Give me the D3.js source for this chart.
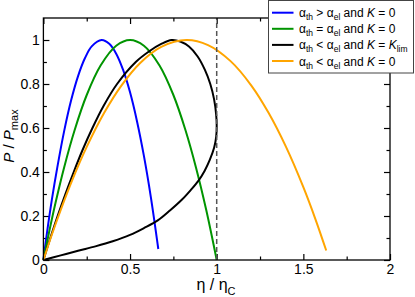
<!DOCTYPE html>
<html>
<head>
<meta charset="utf-8">
<script src="https://cdn.jsdelivr.net/npm/d3@7"></script>
<style>
  body { margin: 0; background: #fff; }
  svg { display: block; font-family: "Liberation Sans", Arial, Helvetica, sans-serif; }
</style>
</head>
<body>
<svg id="chart" width="415" height="297"></svg>
<script>
// curves: [eta/etaC, P/Pmax]
const blueCurve = [[0,0],[0.02,0.12],[0.05,0.28],[0.08,0.42],[0.12,0.587],[0.16,0.726],[0.2,0.836],[0.24,0.918],
  [0.28,0.972],[0.336,1],[0.38,0.983],[0.42,0.938],[0.46,0.864],[0.5,0.762],[0.54,0.631],[0.58,0.473],[0.62,0.286],[0.663,0.05]];
const greenCurve = [[0,0],[0.03,0.116],[0.07,0.26],[0.12,0.422],[0.18,0.59],[0.25,0.75],[0.33,0.884],[0.42,0.974],
  [0.5,1],[0.58,0.974],[0.67,0.884],[0.75,0.75],[0.82,0.59],[0.88,0.422],[0.94,0.226],[1.0,0]];
const blackCurve = [[0,0],[0.04,0.1],[0.082,0.2],[0.127,0.3],[0.175,0.4],[0.226,0.5],[0.283,0.6],[0.347,0.7],
  [0.425,0.8],[0.533,0.9],[0.613,0.95],[0.68,0.982],[0.74,1.0],[0.79,0.993],[0.84,0.97],[0.89,0.925],
  [0.932,0.864],[0.963,0.8],[0.985,0.73],[0.997,0.66],[1.0,0.61],[0.997,0.56],[0.985,0.51],[0.96,0.455],
  [0.93,0.405],[0.894,0.36],[0.85,0.318],[0.8,0.275],[0.73,0.225],[0.66,0.18],[0.58,0.145],[0.5,0.114],
  [0.4,0.085],[0.3,0.062],[0.2,0.042],[0.1,0.021],[0,0]];
const orangeCurve = [[0,0],[0.05,0.118],[0.1,0.228],[0.17,0.37],[0.25,0.514],[0.35,0.668],[0.45,0.793],[0.56,0.897],
  [0.68,0.969],[0.825,1],[0.95,0.977],[1.08,0.904],[1.2,0.793],[1.3,0.668],[1.4,0.514],[1.5,0.331],[1.57,0.185],[1.632,0.043]];

const xMajor = [0, 0.5, 1, 1.5, 2];
const xMinor = [0.25, 0.75, 1.25, 1.75];
const yMajor = [0, 0.2, 0.4, 0.6, 0.8, 1];
const yMinor = [0.1, 0.3, 0.5, 0.7, 0.9];
const carnotLine = 1;

const series = [
  { data: blueCurve, color: "#0000ff" },
  { data: greenCurve, color: "#009400" },
  { data: blackCurve, color: "#000000" },
  { data: orangeCurve, color: "#ffa500" }
];
// legend labels as pieces: [text, style]  (s = subscript, i = italic)
const legendLabels = [
  [["α"],["th","s"],[" > α"],["el","s"],[" and "],["K","i"],[" = 0"]],
  [["α"],["th","s"],[" = α"],["el","s"],[" and "],["K","i"],[" = 0"]],
  [["α"],["th","s"],[" < α"],["el","s"],[" and "],["K","i"],[" = "],["K","i"],["lim","s"]],
  [["α"],["th","s"],[" < α"],["el","s"],[" and "],["K","i"],[" = 0"]]
];

const svg = d3.select("#chart");
const x = d3.scaleLinear().domain([0, 2]).range([43.4, 390]);
const y = d3.scaleLinear().domain([0, 1.1]).range([260, 18]);
const fmt = d3.format("~g");

function axisGroup(axis, tx, ty) {
  const g = svg.append("g").attr("transform", `translate(${tx},${ty})`).call(axis);
  g.select(".domain").remove();
  g.selectAll("line").attr("stroke", "#000").attr("stroke-width", 1.2);
  g.selectAll("text").attr("fill", "#000").style("font-size", "14px").style("font-family", "inherit");
  return g;
}

// bottom / left with labels, top / right mirrored
axisGroup(d3.axisBottom(x).tickValues(xMajor).tickSize(-6).tickPadding(4).tickFormat(fmt), 0, y(0));
axisGroup(d3.axisBottom(x).tickValues(xMinor).tickSize(-3.5).tickFormat(""), 0, y(0));
axisGroup(d3.axisTop(x).tickValues(xMajor).tickSize(-6).tickFormat(""), 0, y(1.1));
axisGroup(d3.axisTop(x).tickValues(xMinor).tickSize(-3.5).tickFormat(""), 0, y(1.1));
axisGroup(d3.axisLeft(y).tickValues(yMajor).tickSize(-6).tickPadding(3.5).tickFormat(fmt), x(0), 0);
axisGroup(d3.axisLeft(y).tickValues(yMinor).tickSize(-3.5).tickFormat(""), x(0), 0);
axisGroup(d3.axisRight(y).tickValues(yMajor).tickSize(-6).tickFormat(""), x(2), 0);
axisGroup(d3.axisRight(y).tickValues(yMinor).tickSize(-3.5).tickFormat(""), x(2), 0);

// curves
const line = d3.line().x(d => x(d[0])).y(d => y(d[1])).curve(d3.curveCatmullRom.alpha(0.5));
svg.append("g").selectAll("path").data(series).join("path")
  .attr("d", d => line(d.data))
  .attr("fill", "none")
  .attr("stroke", d => d.color)
  .attr("stroke-width", 2);

// eta = eta_C
svg.append("line")
  .attr("x1", x(carnotLine)).attr("x2", x(carnotLine))
  .attr("y1", y(0)).attr("y2", y(1.1))
  .attr("stroke", "#555").attr("stroke-width", 1.5)
  .attr("stroke-dasharray", "5,3");

// frame
svg.append("rect")
  .attr("x", x(0)).attr("y", y(1.1))
  .attr("width", x(2) - x(0)).attr("height", y(0) - y(1.1))
  .attr("fill", "none").attr("stroke", "#000").attr("stroke-width", 1.3);

// axis titles
const xt = svg.append("text").attr("x", 216).attr("y", 290)
  .attr("text-anchor", "middle").style("font-size", "16px");
xt.append("tspan").text("η / η");
xt.append("tspan").attr("dy", 5).style("font-size", "11px").text("C");

const yt = svg.append("text").attr("transform", "translate(14,136) rotate(-90)")
  .attr("text-anchor", "middle").style("font-size", "15px");
yt.append("tspan").style("font-style", "italic").text("P");
yt.append("tspan").text(" / ");
yt.append("tspan").style("font-style", "italic").text("P");
yt.append("tspan").attr("dy", 4).style("font-size", "11px").text("max");

// legend
const lg = svg.append("g");
lg.append("rect").attr("x", 268.5).attr("y", 0.5).attr("width", 145).attr("height", 72.5)
  .attr("fill", "#fff").attr("stroke", "#444").attr("stroke-width", 1);
legendLabels.forEach((parts, i) => {
  const ly = 12.7 + i * 16.1;
  lg.append("line").attr("x1", 272).attr("x2", 293.5).attr("y1", ly).attr("y2", ly)
    .attr("stroke", series[i].color).attr("stroke-width", 2);
  const t = lg.append("text").attr("x", 299).attr("y", ly + 4.5).style("font-size", "12px");
  let shifted = false;
  parts.forEach(([txt, st]) => {
    const ts = t.append("tspan").text(txt);
    if (st === "s") {
      ts.style("font-size", "8.5px");
      if (!shifted) { ts.attr("dy", 3); shifted = true; }
    } else {
      if (shifted) { ts.attr("dy", -3); shifted = false; }
      if (st === "i") ts.style("font-style", "italic");
    }
  });
});
</script>
</body>
</html>
